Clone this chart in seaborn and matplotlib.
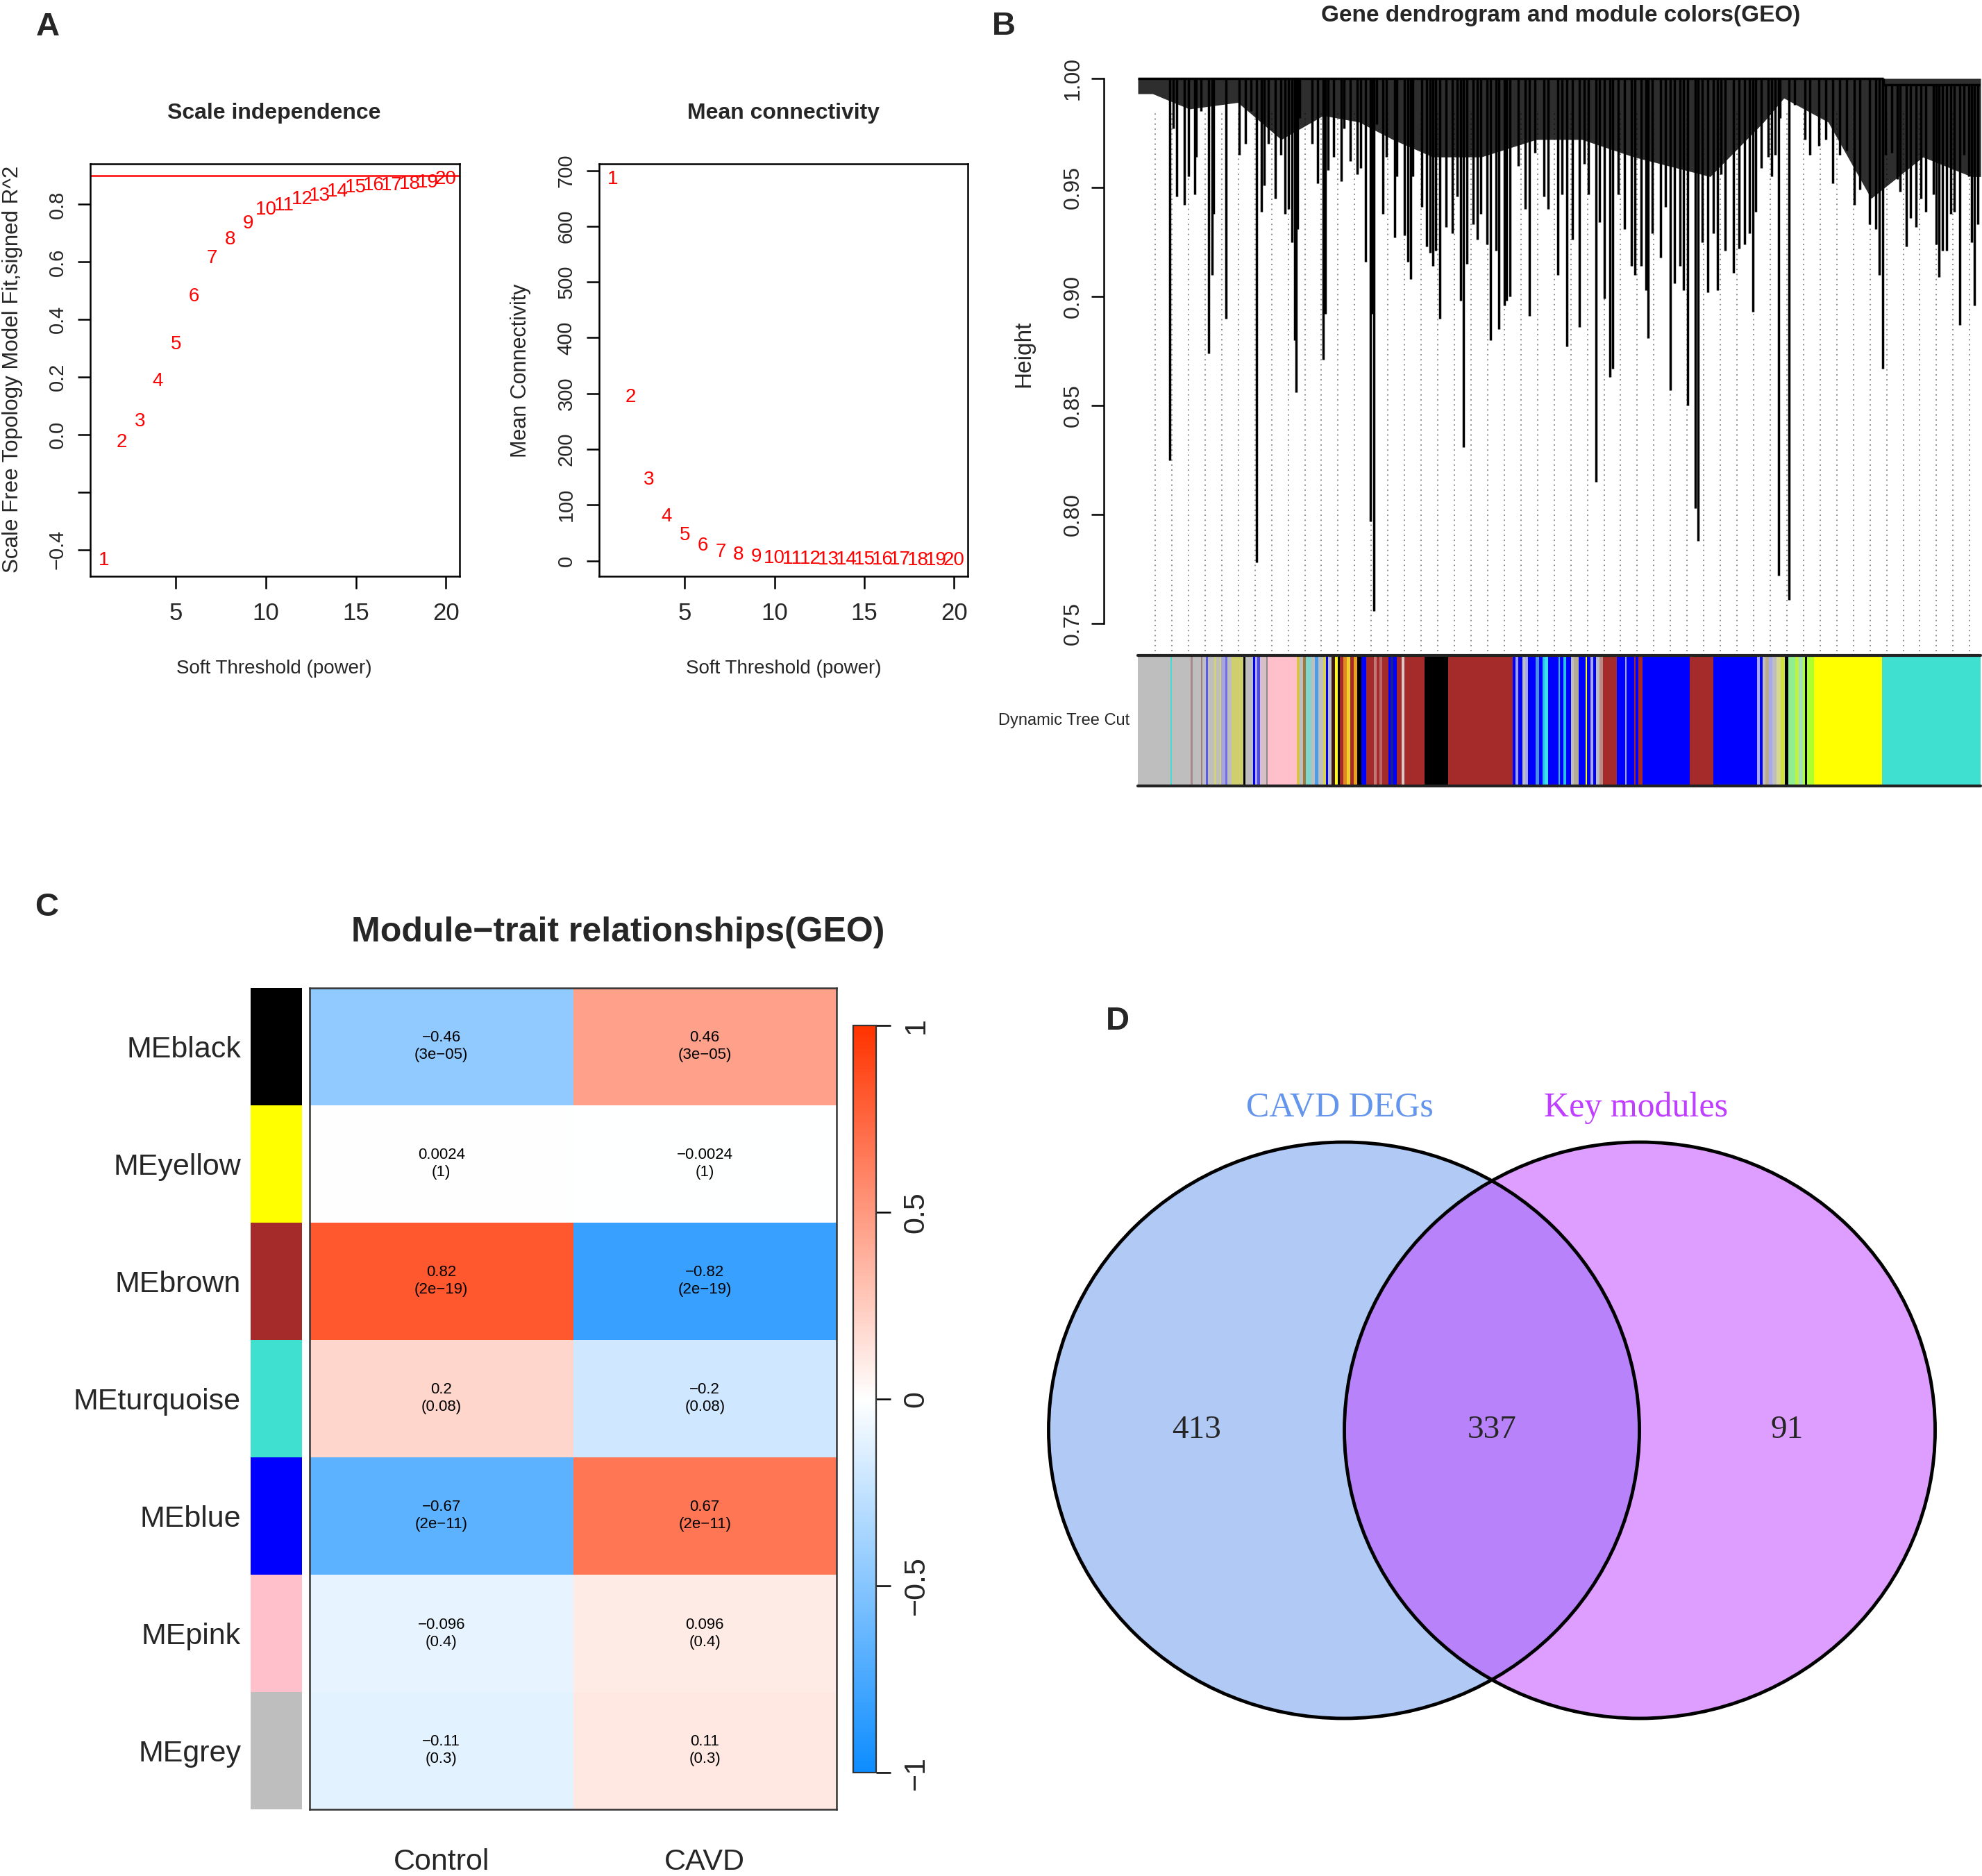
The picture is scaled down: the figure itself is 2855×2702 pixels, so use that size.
import numpy as np
import pandas as pd
import matplotlib
matplotlib.use("Agg")
import matplotlib.pyplot as plt
import seaborn as sns
from matplotlib.colors import LinearSegmentedColormap
from matplotlib.patches import Ellipse

W, H = 2855, 2702

# ---- panel A: soft threshold
powers = list(range(1, 21))
sft_r2 = [-0.436, -0.026, 0.045, 0.187, 0.313, 0.480, 0.614, 0.678, 0.733, 0.781,
          0.796, 0.819, 0.830, 0.845, 0.860, 0.867, 0.867, 0.870, 0.875, 0.887]
mean_k = [684, 293, 145, 79, 46, 27, 16, 10, 6.5, 4.5,
          3.3, 2.6, 2.1, 1.8, 1.6, 1.4, 1.3, 1.2, 1.1, 1.0]
r2_cut = 0.9

# ---- panel B: dendrogram (leaf position in % of tree width, hang height)
leaf_pos = [3.8, 4.2, 4.6, 5.5, 6.0, 6.75, 6.95, 7.5, 8.4, 8.8, 9.0, 10.45, 12.0, 12.8, 13.4,
            14.1, 14.65, 15.0, 15.45, 16.3, 16.95, 17.5, 17.85, 18.25, 18.65, 18.8, 18.95,
            19.2, 20.7, 21.3, 21.95, 22.25, 22.6, 23.2, 24.1, 24.5,
            25.2, 26.0, 26.45, 27.0, 27.55, 27.8, 28.0, 28.35, 29.1, 29.5, 30.5, 30.7, 31.65,
            32.0, 32.35, 32.6, 33.7, 34.25, 34.7, 35.0, 35.35, 35.8, 36.55, 37.35, 37.85, 38.3,
            38.65, 39.0, 39.75, 40.3, 40.7, 41.4, 41.85, 42.5, 42.85, 43.45, 43.75, 44.15, 45.1,
            45.95, 46.45, 47.15, 48.15, 48.7, 49.85,
            50.35, 50.9, 51.55, 52.35, 52.95, 53.45, 54.35, 54.8, 55.35, 56.0, 56.35, 57.0,
            57.7, 58.55, 59.0, 59.75, 60.3, 60.55, 61.05, 62.0, 62.6, 63.15, 63.65, 64.35,
            64.7, 65.2, 66.1, 66.5, 66.95, 67.65, 68.25, 68.75, 69.15, 69.7, 70.65, 71.35,
            72.0, 72.55, 73.0, 73.3, 73.95, 74.8,
            75.2, 75.6, 76.0, 76.2, 77.3, 77.9, 79.15, 79.7, 80.8, 81.65, 82.45, 83.3, 84.1,
            85.0, 85.7, 86.85, 87.55, 87.95, 88.35, 88.7, 89.45, 90.1, 90.4, 91.2, 91.65,
            92.3, 92.9, 93.5, 94.4, 94.75, 95.05, 95.5, 96.0, 96.45, 96.9, 97.5, 98.05,
            98.6, 98.95, 99.25, 99.65]
leaf_h = [0.825, 0.977, 0.946, 0.942, 0.955, 0.947, 0.964, 0.985, 0.874, 0.910, 0.938, 0.890,
          0.965, 0.970, 0.985, 0.778, 0.939, 0.951, 0.970, 0.945, 0.965, 0.938, 0.940, 0.925,
          0.880, 0.856, 0.931, 0.982, 0.970, 0.952, 0.871, 0.892, 0.958, 0.964, 0.953, 0.977,
          0.962, 0.956, 0.959, 0.916, 0.797, 0.892, 0.756, 0.979, 0.938, 0.964, 0.927, 0.955,
          0.928, 0.916, 0.908, 0.955, 0.941, 0.923, 0.920, 0.914, 0.921, 0.890, 0.932, 0.929,
          0.946, 0.898, 0.831, 0.915, 0.933, 0.926, 0.938, 0.924, 0.880, 0.921, 0.885, 0.896,
          0.898, 0.900, 0.960, 0.940, 0.891, 0.966, 0.946, 0.940, 0.910,
          0.947, 0.877, 0.926, 0.886, 0.961, 0.947, 0.815, 0.934, 0.899, 0.863, 0.867, 0.947,
          0.931, 0.914, 0.910, 0.914, 0.903, 0.881, 0.929, 0.918, 0.941, 0.857, 0.906, 0.914,
          0.903, 0.850, 0.803, 0.788, 0.925, 0.902, 0.929, 0.903, 0.956, 0.921, 0.911, 0.922,
          0.924, 0.929, 0.893, 0.939, 0.959, 0.964,
          0.955, 0.965, 0.772, 0.982, 0.761, 0.988, 0.972, 0.965, 0.969, 0.972, 0.952, 0.965,
          0.967, 0.942, 0.949, 0.933, 0.931, 0.910, 0.867, 0.965, 0.966, 0.954, 0.948, 0.923,
          0.936, 0.932, 0.945, 0.939, 0.947, 0.924, 0.909, 0.921, 0.921, 0.938, 0.939, 0.887,
          0.965, 0.955, 0.925, 0.896, 0.933]
# lower edge of the dense dark canopy
canopy_pos = [0, 1.75, 6.1, 11.85, 17, 22, 26.25, 30.25, 35, 40.75, 47.25, 52.7, 58.85,
              67.9, 74.25, 76.65, 81.9, 87, 93.15, 98.9, 100]
canopy_h = [0.993, 0.993, 0.986, 0.989, 0.972, 0.983, 0.980, 0.972, 0.964, 0.964, 0.972,
            0.972, 0.964, 0.955, 0.980, 0.991, 0.980, 0.945, 0.964, 0.955, 0.955]
guide_count = 50

G, TQ, K, B, BR, PK, Y = "#BEBEBE", "#40E0D0", "#000000", "#0000FF", "#A52A2A", "#FFC0CB", "#FFFF00"
cut_start = [0.0, 3.85, 4.05, 6.3, 6.5, 7.5, 7.7, 8.1, 8.35, 9.1,
             9.3, 9.7, 9.9, 10.4, 10.6, 11.1, 12.5, 12.8, 13.7, 13.9,
             14.2, 14.5, 15.2, 15.4, 18.9, 19.2, 19.6, 19.9, 20.6, 21.0,
             21.4, 22.0, 22.3, 22.6, 23.0, 23.4, 23.7, 24.0, 24.4, 24.8,
             25.2, 25.6, 26.0, 26.5, 27.1, 28.0, 28.3, 28.7, 29.0, 29.7,
             30.0, 30.3, 30.7, 31.3, 31.6, 34.0, 36.8, 44.5, 44.8, 45.1,
             45.6, 46.0, 46.3, 47.2, 47.6, 48.0, 48.3, 48.7, 49.9, 50.1,
             50.5, 50.8, 51.4, 51.7, 52.3, 53.1, 53.3, 53.7, 54.0, 54.4,
             54.8, 55.2, 56.8, 57.8, 58.0, 58.9, 59.1, 59.4, 59.9, 65.5,
             68.25, 73.5, 73.8, 74.1, 74.5, 74.9, 75.3, 75.8, 76.3, 76.8,
             77.2, 78.0, 78.4, 78.9, 79.2, 79.4, 80.2, 88.3]
cut_color = [G, TQ, G, "#A88888", G, "#A08080", G, "#5A5AE6", G, "#D2D278",
             G, "#D2D278", "#A8A4E0", "#7070E0", G, "#CFCF6E", K, G, B, "#B0A8E8",
             "#4848F0", "#D8BEC6", "#8A8A8A", PK, "#D8C448", G, "#A07840", "#7FD6CC", G, "#4C9CE8",
             G, "#D8D050", B, G, "#3A1A1A", Y, K, BR, "#E08A20", "#F0D030",
             BR, "#E8A020", K, B, BR, "#C07878", BR, "#B86868", BR, B,
             "#1E1E8C", B, BR, "#D8C8C8", BR, K, BR, B, "#9C9CF0", B,
             G, "#A8A8EC", B, "#4890E8", B, "#28BFF0", "#40DCF0", B, "#28BFF0", B,
             "#28BFF0", B, G, "#B4AC94", B, Y, B, "#A8A8EC", B, G,
             "#B88A8A", BR, B, "#A8A8EC", B, BR, B, BR, B, BR,
             B, "#A8A8EC", B, G, "#B8AC8C", "#A8A8F0", G, "#D8D890", "#D0E040", K,
             "#90EE90", "#C0F040", "#A0E0C0", "#ADFF2F", K, "#ADFF2F", Y, TQ]

# ---- panel C: module-trait relationships
modules = ["MEblack", "MEyellow", "MEbrown", "MEturquoise", "MEblue", "MEpink", "MEgrey"]
module_colors = ["#000000", "#FFFF00", "#A52A2A", "#40E0D0", "#0000FF", "#FFC0CB", "#BEBEBE"]
traits = ["Control", "CAVD"]
cor_control = [-0.46, 0.0024, 0.82, 0.2, -0.67, -0.096, -0.11]
cor_cavd = [0.46, -0.0024, -0.82, -0.2, 0.67, 0.096, 0.11]
p_values = [3e-05, 1, 2e-19, 0.08, 2e-11, 0.4, 0.3]

# ---- panel D: venn
set_names = ["CAVD DEGs", "Key modules"]
set_colors = ["cornflowerblue", "#BF3EFF"]
venn_counts = [413, 337, 91]

sns.set_style("ticks")
SANS = ["Liberation Sans", "DejaVu Sans"]
NARROW = ["Liberation Sans Narrow", "Liberation Sans", "DejaVu Sans"]
SERIF = ["Liberation Serif", "DejaVu Serif"]
plt.rcParams["font.family"] = SANS
plt.rcParams["axes.unicode_minus"] = True

fig = plt.figure(figsize=(W / 100, H / 100), dpi=100)


def px_axes(x0, y0, x1, y1):
    return fig.add_axes([x0 / W, 1 - y1 / H, (x1 - x0) / W, (y1 - y0) / H])


def ptext(x, y, s, **kw):
    kw.setdefault("ha", "center")
    kw.setdefault("va", "center")
    fig.text(x / W, 1 - y / H, s, **kw)


def r_box(ax):
    for sp in ax.spines.values():
        sp.set_visible(True)
        sp.set_linewidth(1.8)
        sp.set_color("black")
    ax.tick_params(direction="out", length=13, width=1.8, color="black")


# ================= A =================
ax1 = px_axes(130, 236, 662, 830)
ax1.set_xlim(0.24, 20.76)
ax1.set_ylim(-0.492, 0.941)
for p, v in zip(powers, sft_r2):
    ax1.text(p, v, str(p), color="red", ha="center", va="center", fontsize=20, family=NARROW)
ax1.axhline(r2_cut, color="red", lw=1.8)
r_box(ax1)
ax1.set_xticks([5, 10, 15, 20])
ax1.set_xticklabels(["5", "10", "15", "20"], fontsize=25, family=NARROW)
ax1.set_yticks([-0.4, -0.2, 0.0, 0.2, 0.4, 0.6, 0.8])
ax1.set_yticklabels(["\u22120.4", "", "0.0", "0.2", "0.4", "0.6", "0.8"],
                    rotation=90, va="center", fontsize=21)
ax1.tick_params(axis="x", pad=14)
ax1.tick_params(axis="y", pad=11)

ax2 = px_axes(863, 236, 1394, 830)
ax2.set_xlim(0.24, 20.76)
ax2.set_ylim(-28, 712)
for p, k in zip(powers, mean_k):
    ax2.text(p, k, str(p), color="red", ha="center", va="center", fontsize=20, family=NARROW)
r_box(ax2)
ax2.set_xticks([5, 10, 15, 20])
ax2.set_xticklabels(["5", "10", "15", "20"], fontsize=25, family=NARROW)
ax2.set_yticks(range(0, 701, 100))
ax2.set_yticklabels([str(v) for v in range(0, 701, 100)], rotation=90, va="center", fontsize=21)
ax2.tick_params(axis="x", pad=14)
ax2.tick_params(axis="y", pad=11)

ptext(69, 39, "A", fontsize=34, fontweight="bold", family=NARROW)
ptext(395, 163, "Scale independence", fontsize=23, fontweight="bold", family=NARROW)
ptext(1129, 163, "Mean connectivity", fontsize=23, fontweight="bold", family=NARROW)
ptext(395, 963, "Soft Threshold (power)", fontsize=20, family=NARROW)
ptext(1129, 963, "Soft Threshold (power)", fontsize=20, family=NARROW)
ptext(18, 532, "Scale Free Topology Model Fit,signed R^2", fontsize=22.5, rotation=90)
ptext(750, 534, "Mean Connectivity", fontsize=22, rotation=90)

# ================= B =================
axd = px_axes(1590, 113, 2855, 938)
axd.set_xlim(-4.04, 100.16)
axd.set_ylim(0.7374, 1.0)
guide_x = np.linspace(2.06, 98.7, guide_count)
axd.vlines(guide_x, 0.7374, 0.985, colors="#808080", linestyles=(0, (1, 3)), lw=1.3, zorder=1)
axd.fill_between(canopy_pos, canopy_h, 1.0, color="black", alpha=0.82, lw=0, zorder=2)
tops = [1.0 if p < 88.5 else 0.997 for p in leaf_pos]
axd.vlines(leaf_pos, leaf_h, tops, colors="black", lw=2.5, zorder=3)
axd.hlines(1.0, 0, 88.5, colors="black", lw=2.5, clip_on=False, zorder=4)
axd.hlines(0.997, 88.5, 99.9, colors="black", lw=2.5, zorder=4)
axd.vlines(88.5, 0.997, 1.0, colors="black", lw=2.5, clip_on=False, zorder=4)
for side in ["top", "right", "bottom"]:
    axd.spines[side].set_visible(False)
axd.spines["left"].set_bounds(0.75, 1.0)
axd.spines["left"].set_linewidth(1.8)
axd.spines["left"].set_color("black")
axd.set_xticks([])
axd.set_yticks([0.75, 0.80, 0.85, 0.90, 0.95, 1.00])
axd.set_yticklabels(["0.75", "0.80", "0.85", "0.90", "0.95", "1.00"],
                    rotation=90, va="center", fontsize=23)
axd.tick_params(axis="y", direction="out", length=13, width=1.8, pad=8, color="black")

axc = px_axes(1639, 944, 2853, 1132)
starts = np.array(cut_start)
ends = np.append(starts[1:], 100.0)
axc.bar(starts, 1, width=ends - starts, bottom=0, align="edge", color=cut_color, lw=0)
axc.set_xlim(0, 100)
axc.set_ylim(0, 1)
axc.axhline(1, color="#222222", lw=3, clip_on=False)
axc.axhline(0, color="#222222", lw=3, clip_on=False)
axc.axis("off")

ptext(1446, 38, "B", fontsize=34, fontweight="bold", family=NARROW)
ptext(2248, 22, "Gene dendrogram and module colors(GEO)", fontsize=24, fontweight="bold", family=NARROW)
ptext(1475, 510, "Height", fontsize=24, rotation=90)
ptext(1627, 1038, "Dynamic Tree Cut", fontsize=17, ha="right", family=NARROW)

# ================= C =================
blue_end, red_end = (0.05, 0.55, 1.0), (1.0, 0.2, 0.0)
cmap = LinearSegmentedColormap.from_list("blueWhiteRed", [blue_end, (1, 1, 1), red_end], N=256)


def fmt(v, spec):
    return format(v, spec).replace("-", "\u2212")


df = pd.DataFrame({"Control": cor_control, "CAVD": cor_cavd}, index=modules)
annot = np.array([[f"{fmt(r, '.2g')}\n({fmt(p, '.1g')})" for r in row]
                  for row, p in zip(df.values, p_values)])

axh = px_axes(446, 1423, 1205, 2606)
cax = px_axes(1229, 1477, 1262, 2553)
sns.heatmap(df, ax=axh, cmap=cmap, vmin=-1, vmax=1, annot=annot, fmt="",
            annot_kws=dict(fontsize=16, color="black", linespacing=1.25),
            cbar_ax=cax, xticklabels=traits, yticklabels=False)
for sp in axh.spines.values():
    sp.set_visible(True)
    sp.set_linewidth(1.8)
    sp.set_color("#333333")
axh.tick_params(axis="x", length=0, pad=40, labelsize=31)
axh.set_xticklabels(traits, rotation=0, fontsize=31)

cb = axh.collections[0].colorbar
cb.set_ticks([-1, -0.5, 0, 0.5, 1])
cb.set_ticklabels(["\u22121", "\u22120.5", "0", "0.5", "1"])
cb.outline.set_visible(True)
cb.outline.set_linewidth(1.6)
cb.outline.set_edgecolor("#333333")
cax.tick_params(axis="y", direction="out", length=15, width=1.8, pad=12, labelsize=31, color="black")
for lab in cax.get_yticklabels():
    lab.set_rotation(90)
    lab.set_va("center")

axs = px_axes(361, 1423, 435, 2606)
axs.barh(range(len(modules)), 1, height=1, color=module_colors, align="center", lw=0)
axs.set_ylim(len(modules) - 0.5, -0.5)
axs.set_xlim(0, 1)
for sp in axs.spines.values():
    sp.set_visible(False)
axs.set_xticks([])
axs.set_yticks(range(len(modules)))
axs.set_yticklabels(modules, fontsize=31)
axs.tick_params(axis="y", length=0, pad=10)

ptext(67, 1307, "C", fontsize=34, fontweight="bold")
ptext(890, 1343, "Module\u2212trait relationships(GEO)", fontsize=36, fontweight="bold")

# ================= D =================
axv = px_axes(1450, 1350, 2855, 2702)
axv.set_xlim(1450, 2855)
axv.set_ylim(2702, 1350)
axv.axis("off")
centers = [(1936, 2060), (2362, 2060)]
rx, ry = 851, 830
for (x, y), c in zip(centers, set_colors):
    axv.add_patch(Ellipse((x, y), rx, ry, facecolor=c, alpha=0.5, lw=0))
for (x, y) in centers:
    axv.add_patch(Ellipse((x, y), rx, ry, facecolor="none", edgecolor="black", lw=3.5))
for (x, y), name, c in zip(centers, set_names, set_colors):
    axv.text(x - 6, 1596, name, color=c, fontsize=36, ha="center", va="center", family=SERIF)
count_x = [(centers[0][0] - rx / 2 + centers[1][0] - rx / 2) / 2,
           (centers[0][0] + centers[1][0]) / 2,
           (centers[0][0] + rx / 2 + centers[1][0] + rx / 2) / 2]
for x, n in zip(count_x, venn_counts):
    axv.text(x, 2060, str(n), fontsize=34, ha="center", va="center", family=SERIF)

ptext(1610, 1471, "D", fontsize=34, fontweight="bold")

fig.savefig("out.png", dpi=100)
